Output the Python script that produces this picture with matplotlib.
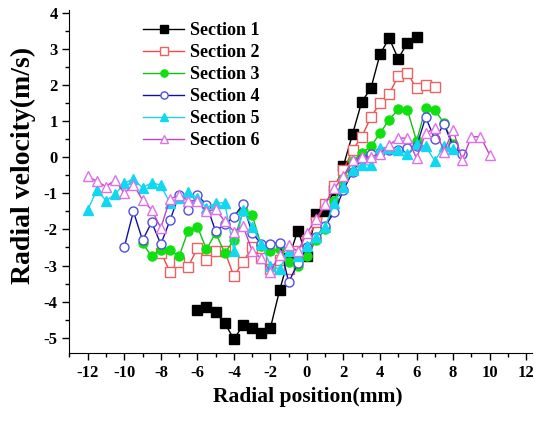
import matplotlib
matplotlib.use('Agg')
import matplotlib.pyplot as plt
from matplotlib.ticker import MultipleLocator
import numpy as np

plt.rcParams['font.family'] = 'Liberation Serif'
plt.rcParams['font.weight'] = 'bold'
plt.rcParams['axes.unicode_minus'] = False

# radial positions (mm), 0.5 mm step
x1 = np.arange(-6, 6.01, 0.5)
s1 = [-4.23, -4.14, -4.30, -4.60, -5.04, -4.66, -4.72, -4.86, -4.73, -3.69,
      -2.80, -2.03, -2.75, -1.57, -1.48, -0.90, -0.23, 0.65, 1.54, 1.91,
      2.86, 3.30, 2.73, 3.18, 3.34]

x2 = np.arange(-8, 7.01, 0.5)
s2 = [-2.64, -3.17, -2.89, -3.03, -2.52, -2.84, -2.60, -2.60, -3.30, -2.90,
      -2.50, -2.80, -3.10, -2.85, -3.10, -2.60, -2.30, -1.80, -1.30, -0.80,
      -0.35, 0.20, 0.57, 1.11, 1.50, 1.76, 2.25, 2.33, 1.91, 2.00, 1.94]

x3 = np.arange(-9, 8.01, 0.5)
s3 = [-2.38, -2.75, -2.57, -2.57, -2.75, -2.03, -1.92, -2.55, -2.10, -2.65,
      -2.30, -1.50, -1.60, -2.45, -2.60, -2.55, -2.90, -3.00, -2.75, -2.30,
      -2.00, -1.20, -0.60, -0.10, 0.11, 0.30, 0.67, 1.04, 1.33, 1.31,
      0.45, 1.36, 1.31, 0.95, 0.37]

x4 = np.arange(-10, 8.51, 0.5)
s4 = [-2.49, -1.50, -2.30, -1.80, -2.41, -1.75, -1.04, -1.47, -1.04, -1.32,
      -2.05, -1.85, -1.65, -1.30, -2.10, -2.40, -2.40, -2.37, -3.47, -2.93,
      -2.50, -2.20, -1.90, -1.53, -0.90, -0.40, -0.05, 0.10, 0.15, 0.20,
      0.20, 0.25, 0.30, 1.11, 0.50, 0.92, 0.30, 0.10]

x5 = np.arange(-12, 8.01, 0.5)
s5 = [-1.46, -0.90, -1.20, -1.03, -0.72, -0.60, -0.85, -0.70, -0.78, -1.27,
      -1.13, -0.96, -1.13, -1.40, -1.27, -1.26, -2.60, -1.46, -1.92, -2.40,
      -3.00, -3.10, -2.60, -2.75, -2.47, -2.20, -1.92, -1.27, -0.81, -0.35,
      -0.21, -0.21, 0.27, 0.27, 0.20, 0.09, 0.38, 0.30, -0.10, 0.30, 0.23]

x6 = np.arange(-12, 10.01, 0.5)
s6 = [-0.52, -0.67, -0.81, -0.63, -1.00, -0.76, -1.18, -1.46, -1.96, -1.16,
      -1.05, -1.20, -1.20, -1.50, -1.44, -1.78, -2.06, -1.90, -2.60, -2.80,
      -3.17, -2.70, -2.43, -2.61, -2.10, -1.70, -1.30, -0.86, -0.53, -0.07,
      0.00, 0.02, 0.10, 0.34, 0.53, 0.53, -0.03, 0.67, 0.81, 0.16,
      0.76, -0.07, 0.57, 0.57, 0.07]

fig = plt.figure(figsize=(5.45, 4.21), dpi=100)
ax = fig.add_axes([0.1275, 0.162, 0.848, 0.814])

ms = 6.5
ax.plot(x1, s1, '-s', color='black', lw=1, ms=ms, mfc='black', mec='black', label='Section 1')
ax.plot(x2, s2, '-s', color='#f04848', lw=1, ms=ms, mfc='white', mec='#f06060', label='Section 2')
ax.plot(x3, s3, '-o', color='#10c010', lw=1, ms=ms, mfc='#10e010', mec='#10e010', label='Section 3')
ax.plot(x4, s4, '-o', color='#1010a0', lw=1, ms=ms, mfc='white', mec='#5050e0', label='Section 4')
ax.plot(x5, s5, '-^', color='#20d0e8', lw=1, ms=ms + 1, mfc='#10d8f0', mec='#10d8f0', label='Section 5')
ax.plot(x6, s6, '-^', color='#c040c8', lw=1, ms=ms + 1, mfc='white', mec='#e070e8', label='Section 6')

ax.set_xlim(-13, 12.3)
ax.set_ylim(-5.42, 4.08)
ax.xaxis.set_major_locator(MultipleLocator(2))
ax.xaxis.set_minor_locator(MultipleLocator(1))
ax.yaxis.set_major_locator(MultipleLocator(1))
ax.yaxis.set_minor_locator(MultipleLocator(0.5))
ax.tick_params(which='major', direction='out', length=5, width=1, labelsize=12)
ax.tick_params(which='minor', direction='out', length=3, width=1)
ax.spines['top'].set_visible(False)
ax.spines['right'].set_visible(False)

ax.set_xlabel('Radial position(mm)', fontsize=15.5, fontweight='bold')
ax.set_ylabel('Radial velocity(m/s)', fontsize=20, fontweight='bold')
ax.xaxis.set_label_coords(0.515, -0.1)
ax.yaxis.set_label_coords(-0.072, 0.548)

ax.legend(loc='upper left', bbox_to_anchor=(0.159, 0.965), frameon=False,
          fontsize=13, handlelength=2.3, labelspacing=0.28, handletextpad=0.3,
          borderpad=0, borderaxespad=0, markerscale=0.8)

fig.savefig('out.png', dpi=100)
